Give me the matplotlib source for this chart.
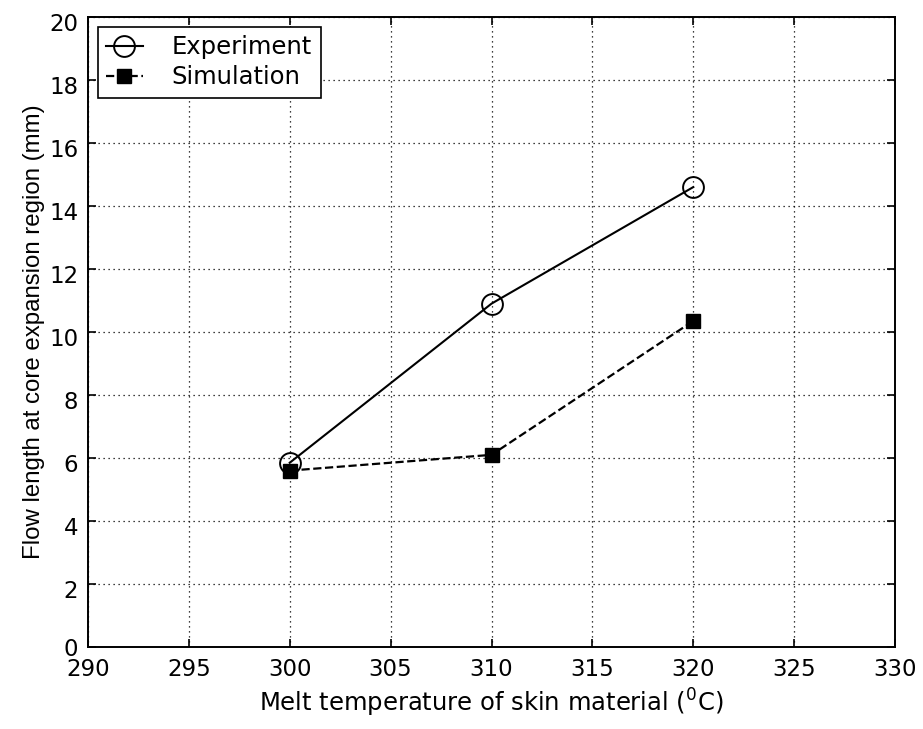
import numpy as np
import matplotlib
matplotlib.use("Agg")
import matplotlib.pyplot as plt
import matplotlib.transforms as mtrans

plt.rcParams['font.family'] = ['DejaVu Sans']

temp = [300, 310, 320]
experiment = [5.85, 10.9, 14.6]
simulation = [5.6, 6.1, 10.35]

xticks = np.arange(290, 331, 5)
yticks = np.arange(0, 21, 2)

fig = plt.figure(figsize=(9.23, 7.29), dpi=100)
ax = fig.add_axes([88 / 923, 1 - 647 / 729, (895 - 88) / 923, (647 - 17) / 729])

ax.plot(temp, experiment, '-', color='black', lw=1.5, marker='o', ms=15,
        mfc='none', mec='black', mew=1.4, label='Experiment')
ax.plot(temp, simulation, '--', color='black', lw=1.6, marker='s', ms=10.5,
        mfc='black', mec='black', label='Simulation')

ax.set_xlim(290, 330)
ax.set_ylim(0, 20)
ax.set_xticks(xticks)
ax.set_yticks(yticks)
ax.grid(True, linestyle=(0, (1, 3)), color='black', lw=0.9)
ax.tick_params(direction='in', top=True, right=True, labelsize=16.5, length=6, width=1.2)
ax.tick_params(axis='x', pad=8)
ax.tick_params(axis='y', pad=7)
for s in ax.spines.values():
    s.set_linewidth(1.4)

# matlab style: y tick labels sit a little below their ticks
shift = mtrans.ScaledTranslation(0, -5 / 100, fig.dpi_scale_trans)
for lab in ax.get_yticklabels()[1:]:
    lab.set_transform(lab.get_transform() + shift)

ax.set_xlabel('Melt temperature of skin material ($\\mathregular{^0}$C)', fontsize=17.5,
              labelpad=4)
ax.set_ylabel('Flow length at core expansion region (mm)', fontsize=17.3,
              family='Liberation Sans', labelpad=3)

leg = ax.legend(loc='upper left', fontsize=17.5, fancybox=False, framealpha=1,
                edgecolor='black', borderaxespad=0.4, handlelength=1.5,
                handletextpad=1.2, borderpad=0.35, labelspacing=0.25)
leg.get_frame().set_linewidth(1.2)

fig.savefig('out.png', dpi=100)
